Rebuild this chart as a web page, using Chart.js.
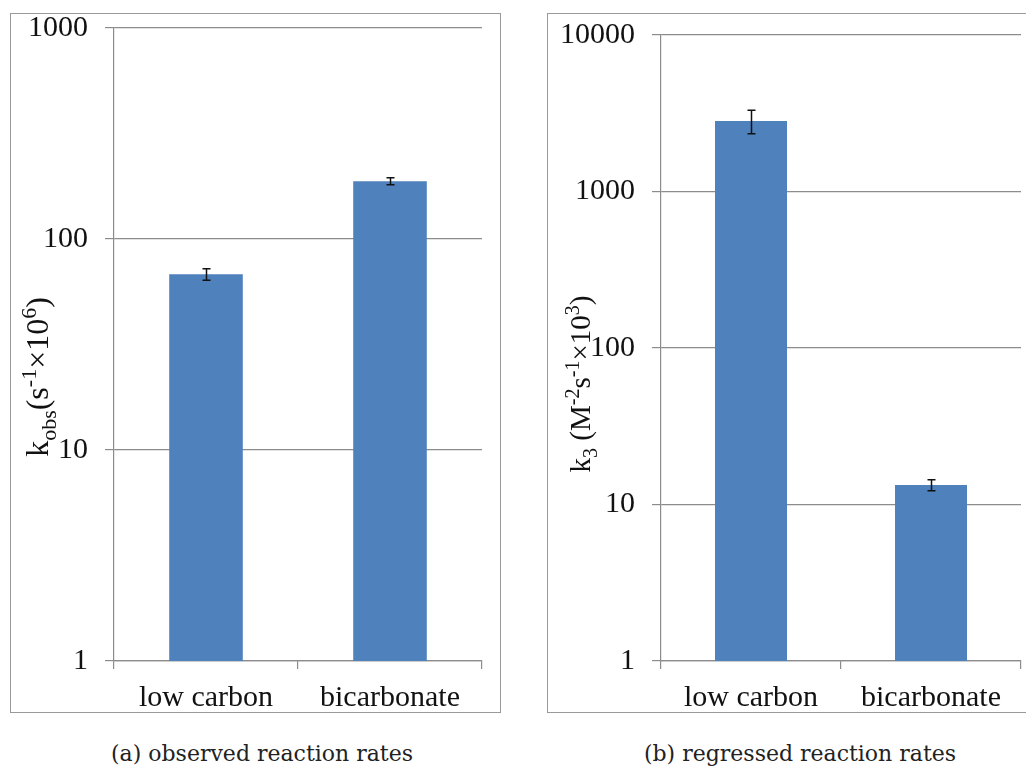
<!DOCTYPE html>
<html>
<head>
<meta charset="utf-8">
<script src="https://cdn.jsdelivr.net/npm/chart.js@4.4.1/dist/chart.umd.min.js"></script>
<style>
  html, body { margin: 0; padding: 0; background: #fff; width: 1026px; height: 768px; overflow: hidden; }
  .box { position: absolute; border: 1px solid #999; }
  .box canvas { position: absolute; left: 0; }
  .cap { position: absolute; font-family: "DejaVu Serif", serif; font-size: 22px; color: #222; text-align: center; }
</style>
</head>
<body>
<div class="box" id="boxA" style="left:10px; top:13px; width:489px; height:698px;">
  <canvas id="chartA" width="489" height="716" style="top:-18px;"></canvas>
</div>
<div class="box" id="boxB" style="left:547px; top:13px; width:500px; height:698px;">
  <canvas id="chartB" width="477" height="709" style="top:-11px;"></canvas>
</div>
<div class="cap" style="left:62px; top:741px; width:400px;">(a) observed reaction rates</div>
<div class="cap" style="left:600px; top:741px; width:400px;">(b) regressed reaction rates</div>

<script>
// データ
const categories = ['low carbon', 'bicarbonate'];

// (a) 観測反応速度 kobs (s^-1 x10^6)
const kobsValues = [68, 188];
const kobsErrors = [4.3, 7];
const kobsTicks = [1, 10, 100, 1000];

// (b) 回帰反応速度 k3 (M^-2 s^-1 x10^3)
const k3Values = [2820, 13.3];
const k3Errors = [480, 1.07];
const k3Ticks = [1, 10, 100, 1000, 10000];

// 軸タイトル（下付き・上付きの部品）
const titleA = [
    { t: 'k' }, { t: 'obs', sub: true }, { t: '(s' }, { t: '-1', sup: true },
    { t: '×10' }, { t: '6', sup: true }, { t: ')' }
];
const titleB = [
    { t: 'k' }, { t: '3', sub: true }, { t: ' (M' }, { t: '-2', sup: true },
    { t: 's' }, { t: '-1', sup: true }, { t: '×10' }, { t: '3', sup: true }, { t: ')' }
];

const barColor = '#4F81BD';
const gridColor = '#8c8c8c';
const labelFont = '"Liberation Serif", serif';

// エラーバーを描くプラグイン
const errorBarPlugin = {
    id: 'errorBars',
    afterDatasetsDraw(chart, args, opts) {
        const ctx = chart.ctx;
        const meta = chart.getDatasetMeta(0);
        const yScale = chart.scales.y;
        const values = chart.data.datasets[0].data;
        ctx.save();
        ctx.strokeStyle = '#111';
        ctx.lineWidth = 1.5;
        meta.data.forEach((bar, i) => {
            const v = values[i];
            const e = opts.errors[i];
            const yTop = yScale.getPixelForValue(v + e);
            const yBot = yScale.getPixelForValue(v - e);
            const x = Math.round(bar.x) + 0.5;
            ctx.beginPath();
            ctx.moveTo(x, yTop); ctx.lineTo(x, yBot);
            ctx.moveTo(x - 4, yTop); ctx.lineTo(x + 4, yTop);
            ctx.moveTo(x - 4, yBot); ctx.lineTo(x + 4, yBot);
            ctx.stroke();
        });
        ctx.restore();
    }
};

// 縦書きの軸タイトル（下付き・上付き対応）
const yTitlePlugin = {
    id: 'yTitle',
    afterDraw(chart, args, opts) {
        const ctx = chart.ctx;
        const big = opts.size;
        const small = Math.round(big * 0.68);
        ctx.save();
        let total = 0;
        opts.parts.forEach(p => {
            ctx.font = (p.sub || p.sup ? small : big) + 'px ' + labelFont;
            total += ctx.measureText(p.t).width;
        });
        ctx.translate(opts.x, opts.y);
        ctx.rotate(-Math.PI / 2);
        ctx.fillStyle = '#111';
        ctx.textBaseline = 'alphabetic';
        let pos = -total / 2;
        opts.parts.forEach(p => {
            ctx.font = (p.sub || p.sup ? small : big) + 'px ' + labelFont;
            let dy = 0;
            if (p.sub) dy = big * 0.25;
            if (p.sup) dy = -big * 0.38;
            ctx.fillText(p.t, pos, dy);
            pos += ctx.measureText(p.t).width;
        });
        ctx.restore();
    }
};

function makeChart(canvasId, values, errors, tickValues, maxVal, yWidth, pad, titleParts, titlePos) {
    const ctx = document.getElementById(canvasId).getContext('2d');
    return new Chart(ctx, {
        type: 'bar',
        data: {
            labels: categories,
            datasets: [{
                data: values,
                backgroundColor: barColor,
                borderWidth: 0,
                barPercentage: 0.4,
                categoryPercentage: 1.0
            }]
        },
        options: {
            responsive: false,
            animation: false,
            devicePixelRatio: 1,
            layout: { padding: pad },
            plugins: {
                legend: { display: false },
                tooltip: { enabled: false },
                errorBars: { errors: errors },
                yTitle: { parts: titleParts, x: titlePos.x, y: titlePos.y, size: titlePos.size }
            },
            scales: {
                x: {
                    grid: {
                        offset: true,
                        drawOnChartArea: false,
                        color: gridColor,
                        tickLength: 8,
                        lineWidth: 1.2
                    },
                    border: { color: gridColor, width: 1.2 },
                    ticks: {
                        color: '#111',
                        padding: 14,
                        font: { family: labelFont, size: 30, lineHeight: 1 }
                    },
                    afterFit: (scale) => { scale.height = 51; }
                },
                y: {
                    type: 'logarithmic',
                    min: 1,
                    max: maxVal,
                    grid: { color: gridColor, tickLength: 9, lineWidth: 1.2 },
                    border: { color: gridColor, width: 1.2 },
                    ticks: {
                        color: '#111',
                        padding: 17,
                        font: { family: labelFont, size: 30, lineHeight: 1 },
                        callback: (v) => String(v)
                    },
                    afterBuildTicks: (scale) => {
                        scale.ticks = tickValues.map(v => ({ value: v }));
                    },
                    afterFit: (scale) => { scale.width = yWidth; }
                }
            }
        },
        plugins: [errorBarPlugin, yTitlePlugin]
    });
}

// 上端はtick paddingとラベル高さの半分(15+17=32)で決まるため、キャンバス位置で合わせる
let chartA = makeChart('chartA', kobsValues, kobsErrors, kobsTicks, 1000, 103,
    { top: 0, right: 18, left: 0, bottom: 0 }, titleA, { x: 37, y: 381, size: 32 });
let chartB = makeChart('chartB', k3Values, k3Errors, k3Ticks, 10000, 113,
    { top: 0, right: 4, left: 0, bottom: 0 }, titleB, { x: 42, y: 381, size: 29 });
</script>
</body>
</html>
